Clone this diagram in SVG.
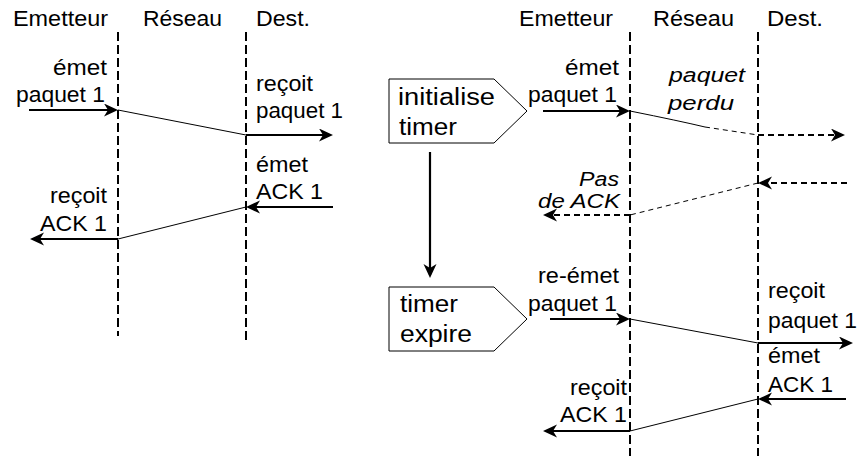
<svg xmlns="http://www.w3.org/2000/svg" width="860" height="456" viewBox="0 0 860 456">
  <defs>
    <style>
      text { font-family: "Liberation Sans", Arial, sans-serif; font-size: 22px; fill: #000; }
      .box text { font-size: 23px; }
      .it { font-style: italic; font-size: 20px; }
      .life { stroke: #000; stroke-width: 2; stroke-dasharray: 9 4; fill: none; }
      .arr { stroke: #000; stroke-width: 2.2; fill: none; marker-end: url(#ah); }
      .arrd { stroke: #000; stroke-width: 2; stroke-dasharray: 6 4; fill: none; marker-end: url(#ah); }
      .thin { stroke: #000; stroke-width: 1; fill: none; }
      .thind { stroke: #000; stroke-width: 1; stroke-dasharray: 5 4; fill: none; }
      .shape { fill: #fff; stroke: #000; stroke-width: 1; }
    </style>
    <marker id="ah" markerUnits="userSpaceOnUse" markerWidth="16" markerHeight="14" refX="11" refY="6.5" orient="auto">
      <path d="M0,0 L14,6.5 L0,13 L4,6.5 Z" fill="#000"/>
    </marker>
  </defs>

  <!-- Left diagram -->
  <g id="left-headers">
    <text x="13" y="26" textLength="95" lengthAdjust="spacingAndGlyphs">Emetteur</text>
    <text x="143" y="26" textLength="79" lengthAdjust="spacingAndGlyphs">Réseau</text>
    <text x="256" y="26" textLength="54" lengthAdjust="spacingAndGlyphs">Dest.</text>
  </g>
  <g id="left-lifelines">
    <line class="life" x1="118" y1="32" x2="118" y2="336"/>
    <line class="life" x1="246" y1="32" x2="246" y2="343"/>
  </g>
  <g id="left-labels">
    <text x="53" y="75" textLength="54" lengthAdjust="spacingAndGlyphs">émet</text>
    <text x="16" y="102" textLength="89" lengthAdjust="spacingAndGlyphs">paquet 1</text>
    <text x="256" y="91" textLength="57" lengthAdjust="spacingAndGlyphs">reçoit</text>
    <text x="256" y="118" textLength="87" lengthAdjust="spacingAndGlyphs">paquet 1</text>
    <text x="256" y="172" textLength="52" lengthAdjust="spacingAndGlyphs">émet</text>
    <text x="256" y="199" textLength="67" lengthAdjust="spacingAndGlyphs">ACK 1</text>
    <text x="50" y="203" textLength="57" lengthAdjust="spacingAndGlyphs">reçoit</text>
    <text x="40" y="231" textLength="67" lengthAdjust="spacingAndGlyphs">ACK 1</text>
  </g>

  <!-- Right diagram -->
  <g id="right-headers">
    <text x="519" y="26" textLength="94" lengthAdjust="spacingAndGlyphs">Emetteur</text>
    <text x="653" y="26" textLength="81" lengthAdjust="spacingAndGlyphs">Réseau</text>
    <text x="767" y="26" textLength="56" lengthAdjust="spacingAndGlyphs">Dest.</text>
  </g>
  <g id="right-lifelines">
    <line class="life" x1="630" y1="32" x2="630" y2="456"/>
    <line class="life" x1="758" y1="32" x2="758" y2="456"/>
  </g>
  <g id="box-initialise" class="box">
    <path class="shape" d="M389,79 H494 L527,111 L494,143 H389 Z"/>
    <text x="398" y="105" textLength="97" lengthAdjust="spacingAndGlyphs">initialise</text>
    <text x="399" y="135" textLength="58" lengthAdjust="spacingAndGlyphs">timer</text>
  </g>
  <g id="box-expire" class="box">
    <path class="shape" d="M389,287 H494 L527,319 L494,351 H389 Z"/>
    <text x="400" y="312" textLength="58" lengthAdjust="spacingAndGlyphs">timer</text>
    <text x="400" y="342" textLength="72" lengthAdjust="spacingAndGlyphs">expire</text>
  </g>
  <g id="right-labels">
    <text x="565" y="75" textLength="54" lengthAdjust="spacingAndGlyphs">émet</text>
    <text x="528" y="102" textLength="89" lengthAdjust="spacingAndGlyphs">paquet 1</text>
    <text class="it" x="669" y="82" textLength="76" lengthAdjust="spacingAndGlyphs">paquet</text>
    <text class="it" x="668" y="110" textLength="66" lengthAdjust="spacingAndGlyphs">perdu</text>
    <text class="it" x="579" y="186" textLength="40" lengthAdjust="spacingAndGlyphs">Pas</text>
    <text class="it" x="538" y="208" textLength="82" lengthAdjust="spacingAndGlyphs">de ACK</text>
    <text x="538" y="283" textLength="81" lengthAdjust="spacingAndGlyphs">re-émet</text>
    <text x="528" y="311" textLength="89" lengthAdjust="spacingAndGlyphs">paquet 1</text>
    <text x="768" y="298" textLength="57" lengthAdjust="spacingAndGlyphs">reçoit</text>
    <text x="768" y="328" textLength="89" lengthAdjust="spacingAndGlyphs">paquet 1</text>
    <text x="768" y="363" textLength="52" lengthAdjust="spacingAndGlyphs">émet</text>
    <text x="768" y="392" textLength="65" lengthAdjust="spacingAndGlyphs">ACK 1</text>
    <text x="570" y="395" textLength="57" lengthAdjust="spacingAndGlyphs">reçoit</text>
    <text x="560" y="422" textLength="67" lengthAdjust="spacingAndGlyphs">ACK 1</text>
  </g>

  <g id="connectors">
    <!-- left -->
    <line class="arr" x1="29" y1="110" x2="115" y2="110"/>
    <line class="thin" x1="118" y1="110" x2="246" y2="135"/>
    <line class="arr" x1="246" y1="135" x2="330" y2="135"/>
    <line class="arr" x1="333" y1="207" x2="249" y2="207"/>
    <line class="thin" x1="246" y1="207" x2="118" y2="239"/>
    <line class="arr" x1="118" y1="239" x2="33" y2="239"/>
    <!-- right, first attempt -->
    <line class="arr" x1="543" y1="111" x2="627" y2="111"/>
    <path class="thin" d="M630,111 Q680,121 705,127"/>
    <line class="thind" x1="705" y1="127" x2="758" y2="135"/>
    <line class="arrd" x1="758" y1="135" x2="842" y2="135"/>
    <line class="arrd" x1="847" y1="183" x2="761" y2="183"/>
    <line class="thind" x1="758" y1="183" x2="630" y2="215"/>
    <line class="arrd" x1="630" y1="215" x2="546" y2="215"/>
    <!-- timer -->
    <line class="arr" x1="430" y1="152" x2="430" y2="275"/>
    <!-- right, retransmission -->
    <line class="arr" x1="550" y1="319" x2="627" y2="319"/>
    <line class="thin" x1="630" y1="319" x2="758" y2="343"/>
    <line class="arr" x1="758" y1="343" x2="850" y2="343"/>
    <line class="arr" x1="846" y1="399" x2="761" y2="399"/>
    <line class="thin" x1="758" y1="399" x2="630" y2="431"/>
    <line class="arr" x1="630" y1="431" x2="546" y2="431"/>
  </g>
</svg>
